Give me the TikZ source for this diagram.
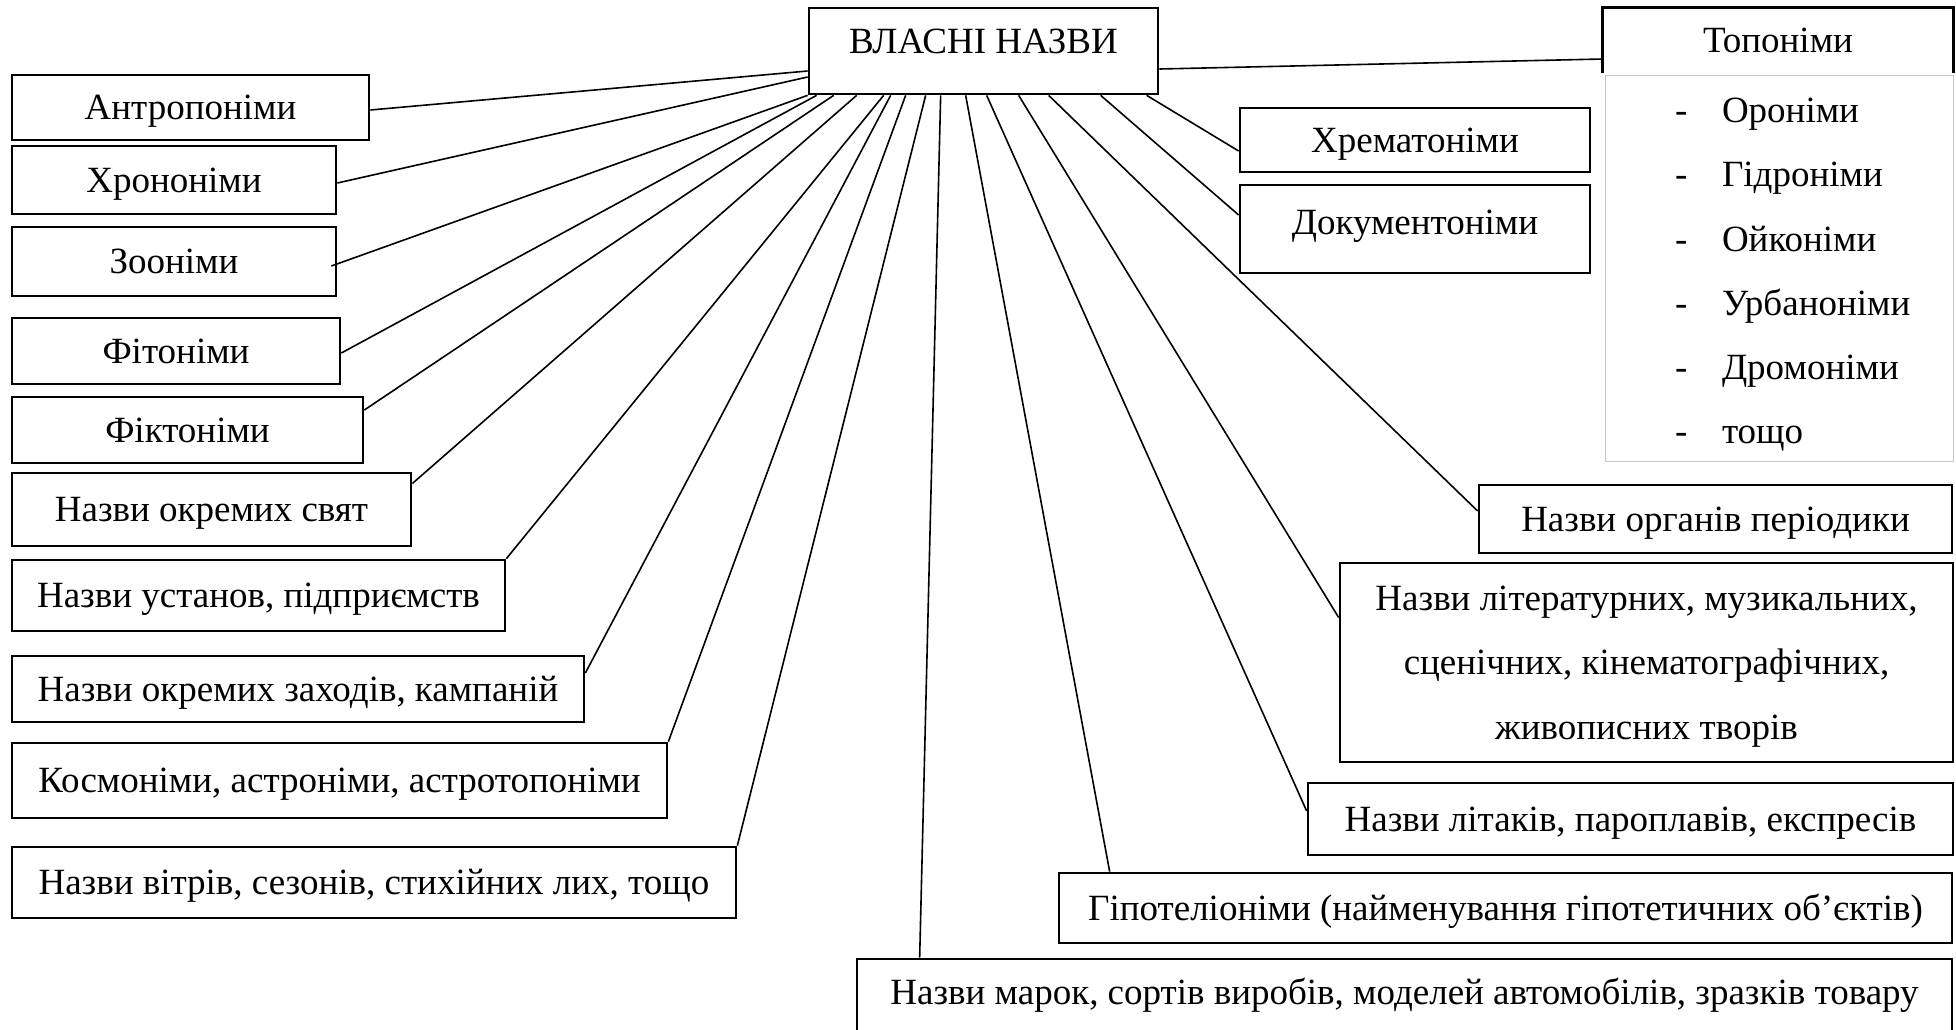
\documentclass[tikz,border=0pt]{standalone}
\usepackage{fontspec}
\setmainfont{Liberation Serif}
\begin{document}
\begin{tikzpicture}[x=1pt,y=-1pt,
  font=\fontsize{37}{44}\selectfont,
  box/.style={draw, line width=2.7pt, inner sep=0pt, text height=30pt, text depth=6pt},
  hdr/.style={inner sep=0pt, text height=30pt, text depth=6pt},
  boxline/.style={line width=2.7pt},
  conn/.style={line width=1.6pt},
  listbox/.style={draw=gray!45, line width=1pt, inner sep=0pt, align=left}]
\useasboundingbox (0,0) rectangle (1956,1029);
\fill[white] (0,0) rectangle (1956,1029);
\clip (0,0) rectangle (1956,1029);

% central node
\node[box, minimum width=349, minimum height=86, text depth=25pt] (root) at (983.5,51) {ВЛАСНІ НАЗВИ};

% left column
\node[box, minimum width=357, minimum height=65] (a1) at (190.5,107.5) {Антропоніми};
\node[box, minimum width=324, minimum height=68] (a2) at (174,180) {Хрононіми};
\node[box, minimum width=324, minimum height=69] (a3) at (174,261.5) {Зооніми};
\node[box, minimum width=328, minimum height=66] (a4) at (176,351) {Фітоніми};
\node[box, minimum width=351, minimum height=66] (a5) at (187.5,430) {Фіктоніми};
\node[box, minimum width=399, minimum height=73] (a6) at (211.5,509.5) {Назви окремих свят};
\node[box, minimum width=493, minimum height=71] (a7) at (258.5,595.5) {Назви установ, підприємств};
\node[box, minimum width=572, minimum height=66] (a8) at (298,689) {Назви окремих заходів, кампаній};
\node[box, minimum width=655, minimum height=75] (a9) at (339.5,780.5) {Космоніми, астроніми, астротопоніми};
\node[box, minimum width=724, minimum height=71] (a10) at (374,882.5) {Назви вітрів, сезонів, стихійних лих, тощо};

% right side
\node[box, minimum width=350, minimum height=64] (chr) at (1415,140) {Хрематоніми};
\node[box, minimum width=350, minimum height=88, text depth=20pt] (doc) at (1415,229) {Документоніми};

\node[hdr, minimum width=350, minimum height=65] (topo) at (1778,40.5) {Топоніми};
\draw[boxline] (topo.south west) |- (topo.north east) -- (topo.south east);
\node[listbox, minimum width=348, minimum height=386, text width=300pt,
      font=\fontsize{37}{64.3}\selectfont] (toplist) at (1779,268)
  {\rule{0pt}{38pt}\hspace*{46pt}\makebox[47pt][l]{-}Ороніми\\
   \hspace*{46pt}\makebox[47pt][l]{-}Гідроніми\\
   \hspace*{46pt}\makebox[47pt][l]{-}Ойконіми\\
   \hspace*{46pt}\makebox[47pt][l]{-}Урбаноніми\\
   \hspace*{46pt}\makebox[47pt][l]{-}Дромоніми\\
   \hspace*{46pt}\makebox[47pt][l]{-}тощо};

\node[box, minimum width=473, minimum height=68] (org) at (1715.5,519) {Назви органів періодики};
\node[draw, line width=2.7pt, inner sep=0pt, align=center, minimum width=613, minimum height=199,
      font=\fontsize{37}{64.5}\selectfont] (lit) at (1646.5,662.5)
  {\rule{0pt}{32pt}Назви літературних, музикальних,\\ сценічних, кінематографічних,\\ живописних творів};
\node[box, minimum width=645, minimum height=72] (let) at (1630.5,819) {Назви літаків, пароплавів, експресів};
\node[box, minimum width=893, minimum height=70] (hyp) at (1505.5,908) {Гіпотеліоніми (найменування гіпотетичних об’єктів)};
\node[box, minimum width=1095, minimum height=86, text depth=26pt] (mark) at (1404.5,1002) {Назви марок, сортів виробів, моделей автомобілів, зразків товару};

% connectors
\draw[conn] ([yshift=-20pt]root.west) -- ([yshift=-2.5pt]a1.east);
\draw[conn] ([yshift=-26pt]root.west) -- ([yshift=-3pt]a2.east);
\draw[conn] (root.south west) -- ([xshift=-6pt,yshift=-4.5pt]a3.east);
\draw[conn] ([xshift=9pt]root.south west) -- ([yshift=-2pt]a4.east);
\draw[conn] ([xshift=26pt]root.south west) -- ([yshift=20pt]a5.east);
\draw[conn] ([xshift=49pt]root.south west) -- ([yshift=26pt]a6.east);
\draw[conn] ([xshift=76pt]root.south west) -- (a7.north east);
\draw[conn] ([xshift=83pt]root.south west) -- ([yshift=16pt]a8.east);
\draw[conn] ([xshift=98pt]root.south west) -- (a9.north east);
\draw[conn] ([xshift=118pt]root.south west) -- (a10.north east);
\draw[conn] ([xshift=133pt]root.south west) -- ([xshift=64pt]mark.north west);
\draw[conn] ([xshift=158pt]root.south west) -- ([xshift=52pt]hyp.north west);
\draw[conn] ([xshift=179pt]root.south west) -- ([yshift=8pt]let.west);
\draw[conn] ([xshift=211pt]root.south west) -- ([yshift=45pt]lit.west);
\draw[conn] ([xshift=241pt]root.south west) -- ([yshift=8pt]org.west);
\draw[conn] ([xshift=293pt]root.south west) -- ([yshift=14pt]doc.west);
\draw[conn] ([xshift=339pt]root.south west) -- ([yshift=-11pt]chr.west);
\draw[conn] ([yshift=-18pt]root.east) -- ([yshift=-18.5pt]topo.west);
\end{tikzpicture}
\end{document}
